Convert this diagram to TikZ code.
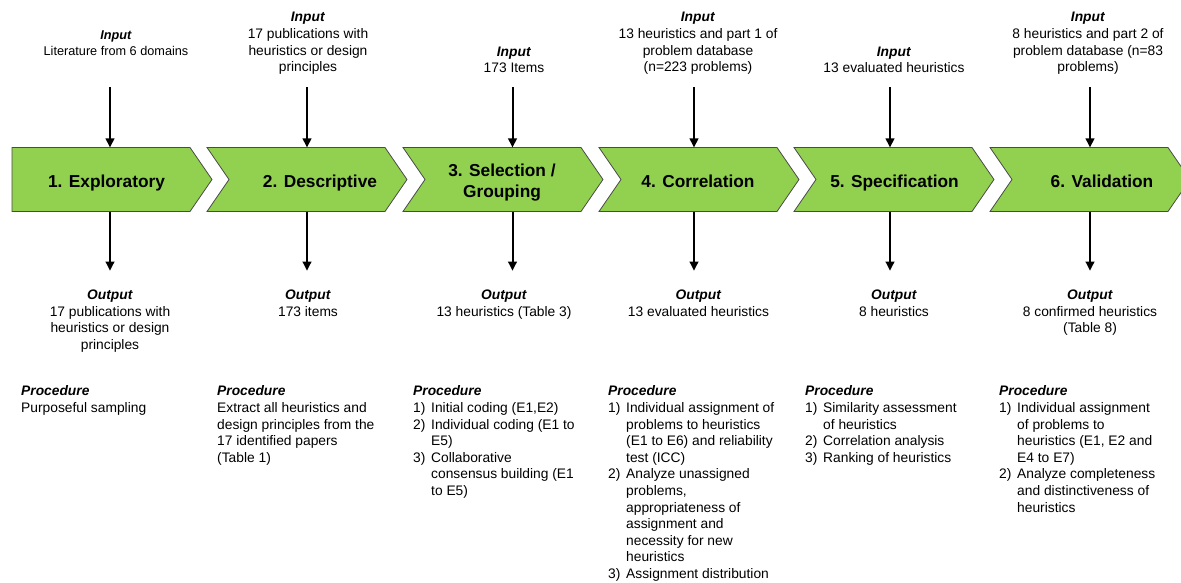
\documentclass[tikz,border=0pt]{standalone}
\usepackage{fontspec}
\setmainfont{Liberation Sans}
\usetikzlibrary{arrows.meta}
\definecolor{chevgreen}{HTML}{92D050}
\definecolor{chevline}{HTML}{4A4A4A}
\newcommand{\myhead}[1]{\textbf{\textit{#1}}}
\newcommand{\mynum}[1]{\makebox[18pt][l]{#1}}
\tikzset{
  chev/.style={fill=chevgreen, draw=chevline, line width=0.8pt, line join=miter},
  chevlabel/.style={font=\fontsize{17.3}{21}\selectfont\bfseries, align=center, inner sep=0pt},
  info/.style={inner sep=0pt, anchor=north, font=\fontsize{13.8}{16.7}\selectfont},
  proc/.style={inner sep=0pt, anchor=north west, font=\fontsize{13.8}{16.6}\selectfont},
  arr/.style={line width=2pt, -{Triangle[length=9pt,width=8.5pt]}}
}
\begin{document}
\begin{tikzpicture}[x=1pt,y=-1pt]
\useasboundingbox (0,0) rectangle (1181,583);
\clip (0,0) rectangle (1181,583);
% chevrons
\draw[chev] (12,147.5) -- (190,147.5) -- (212,179.5) -- (190,211.5) -- (12,211.5) -- cycle;
\foreach \L in {207,403,599,794,990}{
  \draw[chev] (\L,147.5) -- ({\L+178},147.5) -- ({\L+200},179.5) -- ({\L+178},211.5) -- (\L,211.5) -- ({\L+22},179.5) -- cycle;
}
\node[chevlabel, anchor=base] (s1) at (106.5,187.5) {1. Exploratory};
\node[chevlabel, anchor=base] (s2) at (320,187.5) {2. Descriptive};
\node[chevlabel] (s3) at (502,182.5) {3. Selection /\\Grouping};
\node[chevlabel, anchor=base] (s4) at (698,187.5) {4. Correlation};
\node[chevlabel, anchor=base] (s5) at (894.5,187.5) {5. Specification};
\node[chevlabel, anchor=base] (s6) at (1102,187.5) {6. Validation};
% arrow coordinates
\foreach \i/\x in {1/110,2/307,3/512.5,4/694,5/890,6/1090}{
  \coordinate (a\i) at (\x,87.3);
  \coordinate (t\i) at (\x,147.5);
  \coordinate (b\i) at (\x,211.5);
  \coordinate (e\i) at (\x,270.7);
}
\foreach \i in {1,...,6}{
  \draw[arr] (a\i) -- (t\i);
  \draw[arr] (b\i) -- (e\i);
}
% inputs
\node[info, font=\fontsize{12.7}{16.7}\selectfont] (in1) at (116,27.3) {\begin{tabular}{@{}c@{}}\myhead{Input}\\Literature from 6 domains\end{tabular}};
\node[info] (in2) at (308,9.8) {\begin{tabular}{@{}c@{}}\myhead{Input}\\17 publications with\\heuristics or design\\principles\end{tabular}};
\node[info] (in3) at (514,44.3) {\begin{tabular}{@{}c@{}}\myhead{Input}\\173 Items\end{tabular}};
\node[info] (in4) at (698,9.8) {\begin{tabular}{@{}c@{}}\myhead{Input}\\13 heuristics and part 1 of\\problem database\\(n=223 problems)\end{tabular}};
\node[info] (in5) at (894,44.3) {\begin{tabular}{@{}c@{}}\myhead{Input}\\13 evaluated heuristics\end{tabular}};
\node[info] (in6) at (1088,9.8) {\begin{tabular}{@{}c@{}}\myhead{Input}\\8 heuristics and part 2 of\\problem database (n=83\\problems)\end{tabular}};
% outputs
\node[info] (out1) at (110,287.6) {\begin{tabular}{@{}c@{}}\myhead{Output}\\17 publications with\\heuristics or design\\principles\end{tabular}};
\node[info] (out2) at (308,287.6) {\begin{tabular}{@{}c@{}}\myhead{Output}\\173 items\end{tabular}};
\node[info] (out3) at (504,287.6) {\begin{tabular}{@{}c@{}}\myhead{Output}\\13 heuristics (Table 3)\end{tabular}};
\node[info] (out4) at (698.5,287.6) {\begin{tabular}{@{}c@{}}\myhead{Output}\\13 evaluated heuristics\end{tabular}};
\node[info] (out5) at (894,287.6) {\begin{tabular}{@{}c@{}}\myhead{Output}\\8 heuristics\end{tabular}};
\node[info] (out6) at (1090,287.6) {\begin{tabular}{@{}c@{}}\myhead{Output}\\8 confirmed heuristics\\(Table 8)\end{tabular}};
% procedures
\node[proc] (p1) at (21,384) {\begin{tabular}{@{}l@{}}\myhead{Procedure}\\Purposeful sampling\end{tabular}};
\node[proc] (p2) at (217,384) {\begin{tabular}{@{}l@{}}\myhead{Procedure}\\Extract all heuristics and\\design principles from the\\17 identified papers\\(Table 1)\end{tabular}};
\node[proc] (p3) at (413,384) {\begin{tabular}{@{}l@{}l@{}}\multicolumn{2}{@{}l@{}}{\myhead{Procedure}}\\
\mynum{1)} & Initial coding (E1,E2)\\
\mynum{2)} & Individual coding (E1 to\\
 & E5)\\
\mynum{3)} & Collaborative\\
 & consensus building (E1\\
 & to E5)\end{tabular}};
\node[proc] (p4) at (608,384) {\begin{tabular}{@{}l@{}l@{}}\multicolumn{2}{@{}l@{}}{\myhead{Procedure}}\\
\mynum{1)} & Individual assignment of\\
 & problems to heuristics\\
 & (E1 to E6) and reliability\\
 & test (ICC)\\
\mynum{2)} & Analyze unassigned\\
 & problems,\\
 & appropriateness of\\
 & assignment and\\
 & necessity for new\\
 & heuristics\\
\mynum{3)} & Assignment distribution\end{tabular}};
\node[proc] (p5) at (805,384) {\begin{tabular}{@{}l@{}l@{}}\multicolumn{2}{@{}l@{}}{\myhead{Procedure}}\\
\mynum{1)} & Similarity assessment\\
 & of heuristics\\
\mynum{2)} & Correlation analysis\\
\mynum{3)} & Ranking of heuristics\end{tabular}};
\node[proc] (p6) at (999,384) {\begin{tabular}{@{}l@{}l@{}}\multicolumn{2}{@{}l@{}}{\myhead{Procedure}}\\
\mynum{1)} & Individual assignment\\
 & of problems to\\
 & heuristics (E1, E2 and\\
 & E4 to E7)\\
\mynum{2)} & Analyze completeness\\
 & and distinctiveness of\\
 & heuristics\end{tabular}};
\end{tikzpicture}
\end{document}
